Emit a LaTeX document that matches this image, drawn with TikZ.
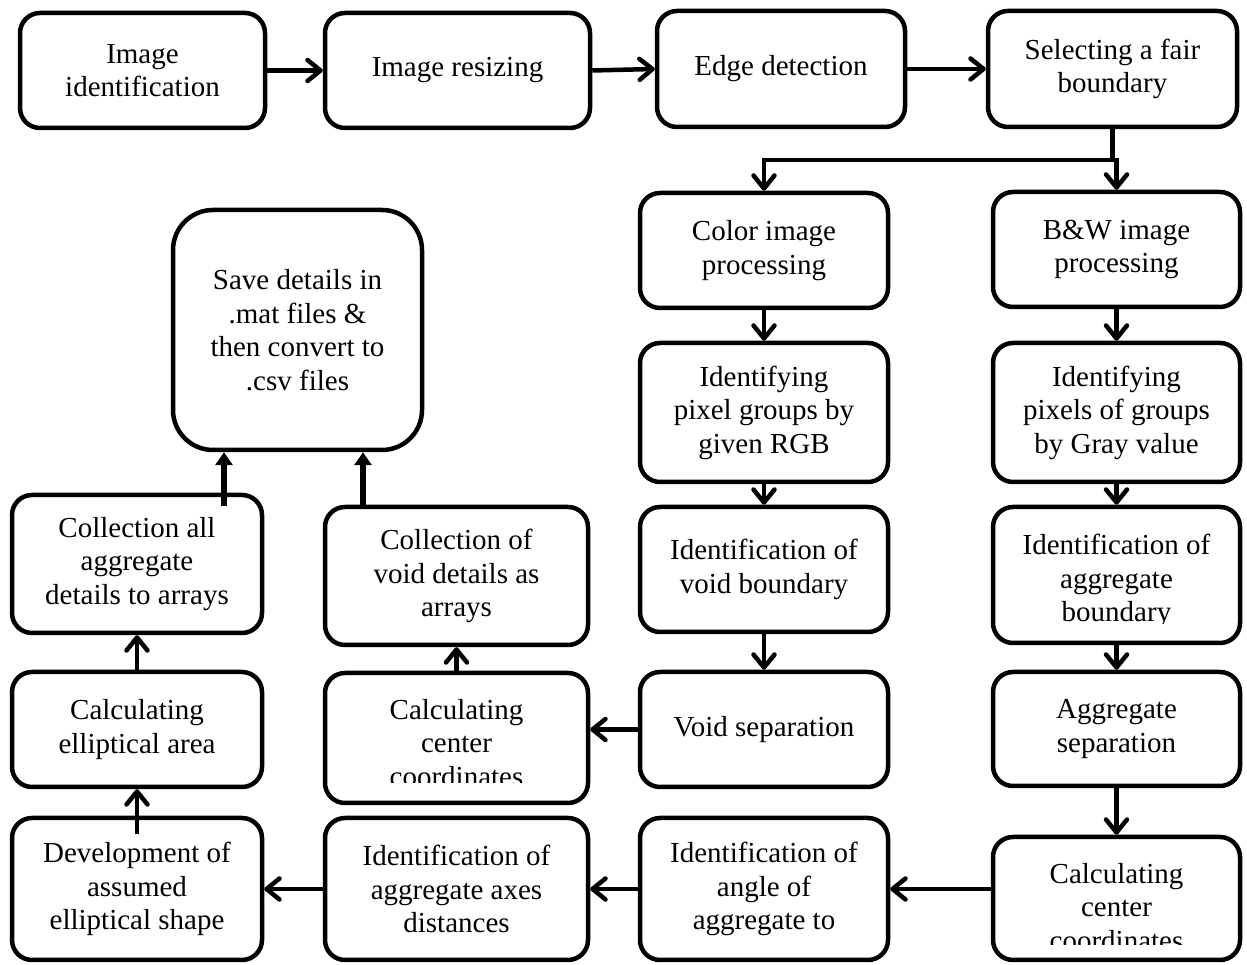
\documentclass[tikz,border=0pt]{standalone}
\usepackage{fontspec}
\setmainfont{Liberation Serif}
\usetikzlibrary{arrows.meta}
\begin{document}
\begin{tikzpicture}[x=1pt,y=1pt,
  box/.style 2 args={draw, line width=4.5pt, rounded corners=20pt, align=center, inner sep=0pt,
    minimum width=#1pt, minimum height=#2pt, font=\fontsize{29}{33.5}\selectfont},
  txt/.style={align=center, inner sep=0pt, font=\fontsize{29}{33.5}\selectfont},
  lin/.style={line width=4.5pt},
  arr/.style={line width=4.5pt, -{Straight Barb[length=13pt,width=21pt,round]}},
  tri/.style={line width=6pt, -{Triangle[length=13pt,width=17pt]}},
]
\useasboundingbox (0,0) rectangle (1247,965);

% top row
\node[box={245}{115}] (A) at (142.5,894.5) {Image\\identification};
\node[box={265}{115}] (B) at (457.5,894.5) {Image resizing};
\node[box={248}{116}] (C) at (781,896) {Edge detection};
\node[box={249}{116}] (D) at (1112.5,896) {Selecting a fair\\boundary};

% colour column
\node[box={248}{115}] (Col) at (764,714.5) {Color image\\processing};
\node[box={248}{139}] (RGB) at (764,552.5) {Identifying\\pixel groups by\\given RGB};
\node[box={248}{125}] (VB) at (764,395.5) {Identification of\\void boundary};
\node[box={248}{115}] (VS) at (764,235.5) {Void separation};
\node[box={248}{142}] (Ang) at (764,76) {Identification of\\angle of\\aggregate to};

% B&W column
\node[box={247}{115}] (BW) at (1116.5,715.5) {B\&W image\\processing};
\node[box={247}{139}] (Pix) at (1116.5,552.5) {Identifying\\pixels of groups\\by Gray value};
\node[box={247}{136}] (AB) at (1116.5,390) {};
\node[box={247}{114}] (AS) at (1116.5,236) {Aggregate\\separation};
\node[box={247}{123}] (CR) at (1116.5,66.5) {};

% second column
\node[box={249}{240}, rounded corners=40pt] (Save) at (297.5,635) {Save details in\\.mat files \&\\then convert to\\.csv files};
\node[box={263}{138}] (CV) at (456.5,389) {Collection of\\void details as\\arrays};
\node[box={263}{130}] (CC) at (456.5,227) {};
\node[box={263}{142}] (Ax) at (456.5,76) {Identification of\\aggregate axes\\distances};

% first column
\node[box={250}{138}] (CA) at (137,401) {Collection all\\aggregate\\details to arrays};
\node[box={250}{115}] (Ar) at (137,235.5) {Calculating\\elliptical area};
\node[box={250}{142}] (Dev) at (137,76) {Development of\\assumed\\elliptical shape};

% clipped texts
\begin{scope}
  \clip (998,341) rectangle (1235,455);
  \node[txt] (ABt) at (1116.5,384) {Identification of\\aggregate\\boundary};
\end{scope}
\begin{scope}
  \clip (998,20) rectangle (1235,125);
  \node[txt] (CRt) at (1116.5,58.3) {Calculating\\center\\coordinates};
\end{scope}
\begin{scope}
  \clip (330,182) rectangle (583,290);
  \node[txt] (CCt) at (456.5,222) {Calculating\\center\\coordinates};
\end{scope}

% connectors
\draw[arr] (A.east) -- (B.west);
\draw[arr] (B.east) -- (C.west);
\draw[arr] (C.east) -- (D.west);
\path (D.south) ++(0,-31) coordinate (j);
\draw[lin] (D.south) -- (j);
\draw[arr] (j) -| (Col.north);
\draw[arr] (j) -| (BW.north);

\draw[arr] (Col.south) -- (RGB.north);
\draw[arr] (RGB.south) -- (VB.north);
\draw[arr] (VB.south) -- (VS.north);
\draw[arr] (BW.south) -- (Pix.north);
\draw[arr] (Pix.south) -- (AB.north);
\draw[arr] (AB.south) -- (AS.north);
\draw[arr] (AS.south) -- (CR.north);

\draw[arr] (CR.west |- Ang.east) -- (Ang.east);
\draw[arr] (Ang.west) -- (Ax.east);
\draw[arr] (Ax.west) -- (Dev.east);
\draw[arr] ([yshift=-18pt]Dev.north) -- (Ar.south);
\draw[arr] (Ar.north) -- (CA.south);
\draw[arr] (VS.west) -- (VS.west -| CC.east);
\draw[arr] (CC.north) -- (CV.south);
\draw[tri] ([xshift=87pt,yshift=-13pt]CA.north) -- ([xshift=87pt]CA.north |- Save.south);
\draw[tri] ([xshift=-93.5pt]CV.north) -- ([xshift=-93.5pt]CV.north |- Save.south);
\end{tikzpicture}
\end{document}
